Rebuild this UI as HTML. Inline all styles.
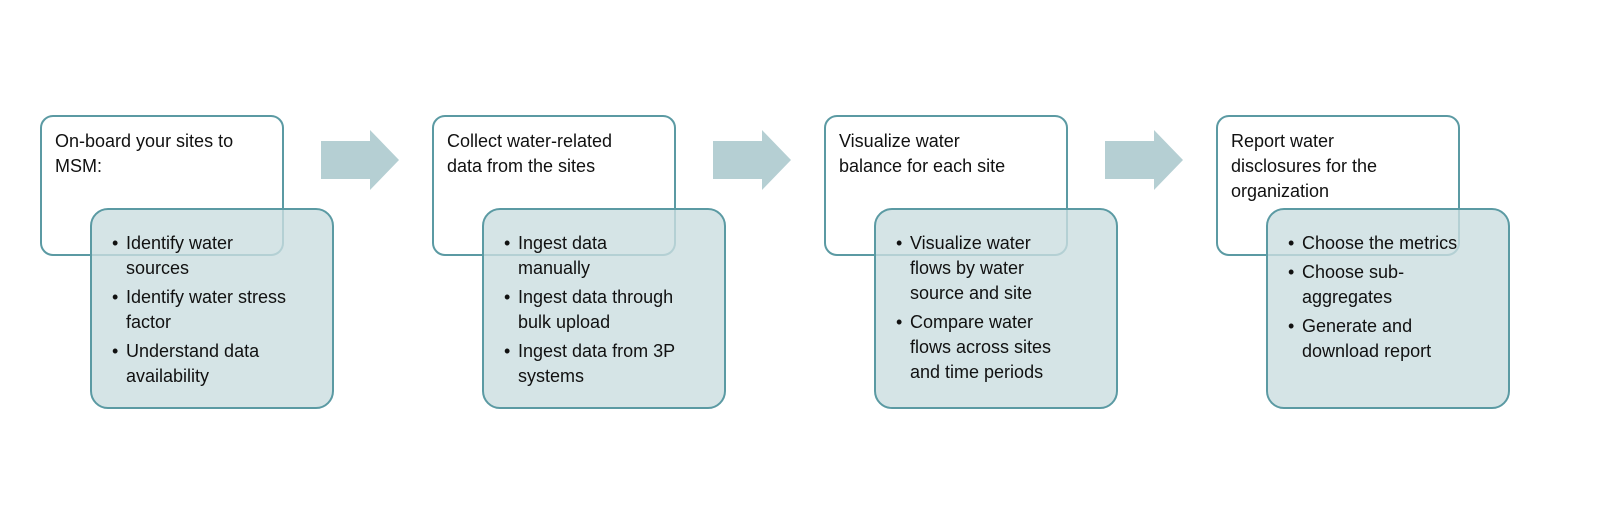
<!DOCTYPE html>
<html><head><style>
body{margin:0;width:1607px;height:517px;background:#fff;position:relative;font-family:"Liberation Sans",sans-serif;color:#111;overflow:hidden}
.o{position:absolute;top:115px;width:244px;height:141px;border:2px solid #5b9aa3;border-radius:13px;background:#fff;box-sizing:border-box;padding:12px 13px;font-size:18px;line-height:25px;white-space:nowrap}
.i{position:absolute;top:208px;width:244px;height:201px;border:2px solid #5b9aa3;border-radius:18px;background:rgba(203,221,224,0.8);box-sizing:border-box;padding:21px 10px 0 20px;font-size:18px;line-height:25px;white-space:nowrap}
.i div{position:relative;padding-left:14px;margin-bottom:4px}
.i div:before{content:"•";position:absolute;left:0}
svg{position:absolute;top:130px}
</style></head><body>
<div class="o" style="left:40px">On-board your sites to<br>MSM:</div>
<div class="i" style="left:90px"><div>Identify water<br>sources</div><div>Identify water stress<br>factor</div><div>Understand data<br>availability</div></div>
<svg style="left:321px" width="80" height="62"><polygon points="0,11 49,11 49,0 78,30 49,60 49,49 0,49" fill="#b5cfd3"/></svg>

<div class="o" style="left:432px">Collect water-related<br>data from the sites</div>
<div class="i" style="left:482px"><div>Ingest data<br>manually</div><div>Ingest data through<br>bulk upload</div><div>Ingest data from 3P<br>systems</div></div>
<svg style="left:713px" width="80" height="62"><polygon points="0,11 49,11 49,0 78,30 49,60 49,49 0,49" fill="#b5cfd3"/></svg>

<div class="o" style="left:824px">Visualize water<br>balance for each site</div>
<div class="i" style="left:874px"><div>Visualize water<br>flows by water<br>source and site</div><div>Compare water<br>flows across sites<br>and time periods</div></div>
<svg style="left:1105px" width="80" height="62"><polygon points="0,11 49,11 49,0 78,30 49,60 49,49 0,49" fill="#b5cfd3"/></svg>

<div class="o" style="left:1216px">Report water<br>disclosures for the<br>organization</div>
<div class="i" style="left:1266px"><div>Choose the metrics</div><div>Choose sub-<br>aggregates</div><div>Generate and<br>download report</div></div>
</body></html>
